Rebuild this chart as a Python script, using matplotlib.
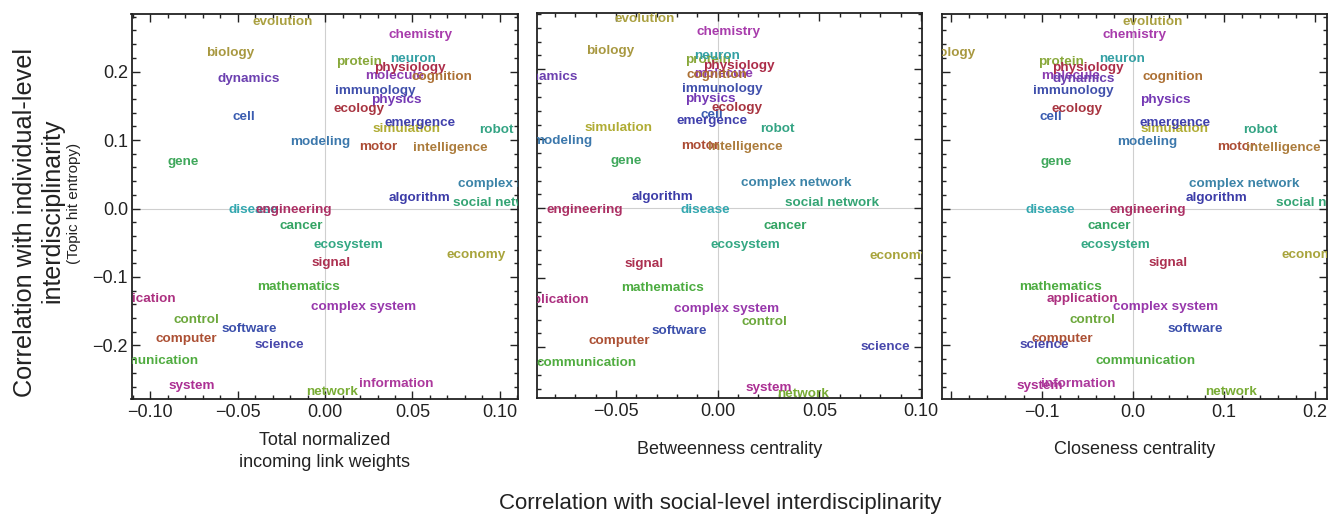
import matplotlib
matplotlib.use('Agg')
import matplotlib.pyplot as plt
from matplotlib.ticker import MultipleLocator, FuncFormatter
import numpy as np

plt.rcParams['font.family'] = ['Liberation Sans', 'DejaVu Sans']

# ---------------- data ----------------
topics = ["evolution", "chemistry", "biology", "protein", "neuron", "molecule",
          "physiology", "cognition", "dynamics", "immunology", "physics", "cell",
          "ecology", "simulation", "emergence", "robot", "modeling", "motor",
          "intelligence", "gene", "complex network", "algorithm", "social network",
          "disease", "engineering", "cancer", "ecosystem", "economy", "signal",
          "mathematics", "application", "complex system", "control", "software",
          "computer", "science", "communication", "network", "system", "information"]

# correlation with individual-level interdisciplinarity (shared y)
y_individual = [0.273, 0.254, 0.2266, 0.214, 0.219, 0.1935,
                0.2048, 0.1915, 0.189, 0.172, 0.158, 0.134,
                0.145, 0.116, 0.1253, 0.114, 0.0966, 0.0893,
                0.088, 0.0683, 0.036, 0.0158, 0.0076,
                -0.0027, -0.0022, -0.0251, -0.0533, -0.0685, -0.080,
                -0.1142, -0.1316, -0.1442, -0.1632, -0.1764,
                -0.1905, -0.200, -0.2222, -0.2674, -0.2587, -0.2562]

x_link_weights = [-0.0242, 0.0543, -0.0543, 0.0196, 0.0501, 0.0396,
                  0.0482, 0.0667, -0.0434, 0.0286, 0.041, -0.0463,
                  0.0196, 0.0467, 0.0543, 0.0977, -0.0029, 0.0307,
                  0.0718, -0.0813, 0.1073, 0.0539, 0.1003,
                  -0.0407, -0.0177, -0.0133, 0.0133, 0.0861, 0.0033,
                  -0.0149, -0.1056, 0.0219, -0.0733, -0.0434,
                  -0.079, -0.0261, -0.101, 0.0042, -0.0762, 0.0406]

x_betweenness = [-0.0357, 0.0052, -0.053, -0.0047, -0.0005, 0.0029,
                 0.0105, -0.0002, -0.084, 0.0023, -0.0038, -0.003,
                 0.0096, -0.0485, -0.003, 0.0295, -0.0765, -0.0088,
                 0.0137, -0.0451, 0.0388, -0.027, 0.056,
                 -0.0059, -0.0652, 0.0334, 0.0138, 0.089, -0.0362,
                 -0.027, -0.0807, 0.0044, 0.0229, -0.0189,
                 -0.0484, 0.0826, -0.0644, 0.0418, 0.0249, np.nan]

x_closeness = [0.0215, 0.0025, -0.200, -0.0788, -0.0114, -0.0687,
               -0.0488, 0.0446, -0.0543, -0.0653, 0.0363, -0.0901,
               -0.0615, 0.0465, 0.0465, 0.1399, 0.0154, 0.1133,
               0.1657, -0.0846, 0.1223, 0.0923, 0.2089,
               -0.0901, 0.016, -0.026, -0.0187, 0.1961, 0.0385,
               -0.0788, -0.055, 0.0363, -0.044, 0.0685,
               -0.0773, -0.0971, 0.0146, 0.1077, -0.1026, -0.0595]

panel_titles = ["Total normalized\nincoming link weights",
                "Betweenness centrality", "Closeness centrality"]

# ---------------- styling ----------------
word_colors = {
    "evolution": "#aaa040", "chemistry": "#a83cac", "biology": "#a89840",
    "protein": "#88a83a", "neuron": "#34a0a4", "molecule": "#8c3cb0",
    "physiology": "#ac2c48", "cognition": "#ac7034", "dynamics": "#6c40b0",
    "immunology": "#4050ac", "physics": "#7438b4", "cell": "#3a5cb0",
    "ecology": "#a83440", "simulation": "#b0ac34", "emergence": "#4040ac",
    "robot": "#34a484", "modeling": "#3c78ac", "motor": "#ac4c34",
    "intelligence": "#ac7c3c", "gene": "#40a85c", "complex network": "#3c84a8",
    "algorithm": "#3c3ca8", "social network": "#34a474", "disease": "#34a8b0",
    "engineering": "#ac3064", "cancer": "#34a464", "ecosystem": "#34a884",
    "economy": "#a8a43c", "signal": "#ac3050", "mathematics": "#4cac40",
    "application": "#ac3080", "complex system": "#9838ac", "control": "#6ca83c",
    "software": "#3c50ac", "computer": "#ac5034", "science": "#4848ac",
    "communication": "#50ac40", "network": "#78ac34", "system": "#ac3094",
    "information": "#ac389c",
}

W, H = 1334, 515
fig = plt.figure(figsize=(W / 100, H / 100), dpi=100)


def rect(l, r, t, b):
    return [l / W, 1 - b / H, (r - l) / W, (b - t) / H]


def fmt(decimals, hide_below=None):
    def f(v, pos):
        if hide_below is not None and v < hide_below:
            return ""
        s = f"{v:.{decimals}f}"
        if s.startswith("-") and float(s) == 0:
            s = s[1:]
        return s.replace("-", "\u2212")
    return FuncFormatter(f)


panels = [
    dict(rect=rect(131.5, 518, 13.5, 398.5), xs=x_link_weights,
         xlim=(-0.1106, 0.1103), ylim=(-0.2774, 0.2847),
         major=0.05, minor=0.01, dec=2, hide=None, ylab=True),
    dict(rect=rect(537, 922, 13.3, 397.7), xs=x_betweenness,
         xlim=(-0.0888, 0.1004), ylim=(-0.2725, 0.2806),
         major=0.05, minor=0.01, dec=2, hide=None, ylab=False),
    dict(rect=rect(941.7, 1326.7, 13.5, 398.5), xs=x_closeness,
         xlim=(-0.2099, 0.2132), ylim=(-0.2774, 0.2847),
         major=0.1, minor=0.02, dec=1, hide=-0.15, ylab=False),
]

axes = []
for p in panels:
    ax = fig.add_axes(p["rect"])
    axes.append(ax)
    ax.set_xlim(*p["xlim"])
    ax.set_ylim(*p["ylim"])
    ax.axhline(0, color="#cfcfcf", lw=0.8, zorder=0.5)
    ax.axvline(0, color="#cfcfcf", lw=0.8, zorder=0.5)
    for name, xv, yv in zip(topics, p["xs"], y_individual):
        if not np.isfinite(xv):
            continue
        ax.text(xv, yv, name, color=word_colors[name], fontsize=9.7,
                fontweight="bold", ha="center", va="center", clip_on=True)
    ax.xaxis.set_major_locator(MultipleLocator(p["major"]))
    ax.xaxis.set_minor_locator(MultipleLocator(p["minor"]))
    ax.yaxis.set_major_locator(MultipleLocator(0.1))
    ax.yaxis.set_minor_locator(MultipleLocator(0.02))
    ax.xaxis.set_major_formatter(fmt(p["dec"], p["hide"]))
    ax.yaxis.set_major_formatter(fmt(1))
    ax.tick_params(which="both", direction="in", top=True, right=True,
                   color="#222222", width=1.0)
    ax.tick_params(which="major", length=5.5)
    ax.tick_params(which="minor", length=2.8)
    ax.tick_params(axis="x", labelsize=13, pad=4, labelcolor="#222222")
    ax.tick_params(axis="y", labelsize=13, pad=2.5, labelcolor="#222222",
                   labelleft=p["ylab"])
    for s in ax.spines.values():
        s.set_linewidth(1.3)
        s.set_color("#222222")

# x labels
fig.text(324.75 / W, 1 - 445 / H, "Total normalized", ha="center",
         va="baseline", fontsize=13, color="#222222")
fig.text(324.75 / W, 1 - 467 / H, "incoming link weights", ha="center",
         va="baseline", fontsize=13, color="#222222")
fig.text(729.5 / W, 1 - 454 / H, panel_titles[1], ha="center",
         va="baseline", fontsize=13, color="#222222")
fig.text(1134.2 / W, 1 - 454 / H, panel_titles[2], ha="center",
         va="baseline", fontsize=13, color="#222222")

# shared x label
fig.text(720 / W, 1 - 509 / H, "Correlation with social-level interdisciplinarity",
         ha="center", va="baseline", fontsize=16, color="#222222")

# y label
fig.text(25 / W, 1 - 222 / H, "Correlation with individual-level",
         rotation=90, ha="center", va="center", fontsize=18.2, color="#222222")
fig.text(52 / W, 1 - 211 / H, "interdisciplinarity",
         rotation=90, ha="center", va="center", fontsize=18.0, color="#222222")
fig.text(74 / W, 1 - 203 / H, "(Topic hit entropy)",
         rotation=90, ha="center", va="center", fontsize=11, color="#222222")

fig.savefig("out.png", dpi=100)
